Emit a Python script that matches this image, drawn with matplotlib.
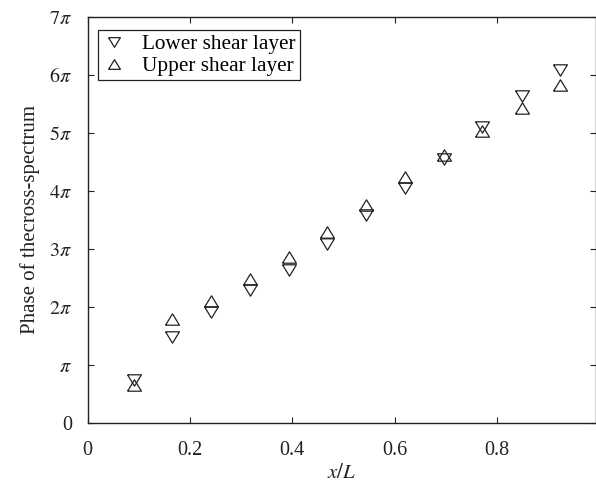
import numpy as np
import matplotlib
matplotlib.use("Agg")
import matplotlib.pyplot as plt
from matplotlib.ticker import FixedLocator, FixedFormatter

x_pos = [0.091, 0.166, 0.242, 0.317, 0.393, 0.468, 0.543, 0.620, 0.696, 0.771, 0.848, 0.923]
lower = [0.74, 1.48, 1.91, 2.29, 2.64, 3.09, 3.58, 4.06, 4.55, 5.11, 5.63, 6.09]
upper = [0.65, 1.79, 2.11, 2.48, 2.87, 3.30, 3.76, 4.24, 4.62, 5.04, 5.43, 5.83]
y_ticks = [0, 1, 2, 3, 4, 5, 6, 7]
y_ticklabels = ['0', r'$\pi$', r'$2\pi$', r'$3\pi$', r'$4\pi$', r'$5\pi$', r'$6\pi$', r'$7\pi$']
x_ticks = [0, 0.2, 0.4, 0.6, 0.8]
x_ticklabels = ['0', '0.2', '0.4', '0.6', '0.8']

plt.rcParams['font.family'] = ['Liberation Serif', 'DejaVu Serif']
plt.rcParams['mathtext.fontset'] = 'stix'

fig = plt.figure(figsize=(5.96, 4.84), dpi=100)
ax = fig.add_axes([87.5/596, 61/484, (595.5-87.5)/596, (423-17)/484])

h = 0.82
tri_down = [(-1, h), (1, h), (0, -h), (-1, h)]
tri_up = [(-1, -h), (1, -h), (0, h), (-1, -h)]

ms = 10
ax.plot(x_pos, lower, linestyle='none', marker=tri_down, markersize=ms,
        markerfacecolor='none', markeredgecolor='#222222', markeredgewidth=0.9,
        label='Lower shear layer')
ax.plot(x_pos, upper, linestyle='none', marker=tri_up, markersize=ms,
        markerfacecolor='none', markeredgecolor='#222222', markeredgewidth=0.9,
        label='Upper shear layer')

ax.set_xlim(0, (595.5-87.5)/512)
ax.set_ylim(0, 7)
ax.xaxis.set_major_locator(FixedLocator(x_ticks))
ax.xaxis.set_major_formatter(FixedFormatter(x_ticklabels))
ax.yaxis.set_major_locator(FixedLocator(y_ticks))
ax.yaxis.set_major_formatter(FixedFormatter(y_ticklabels))
ax.tick_params(direction='in', top=True, right=True, length=4, width=0.8,
               labelsize=14.5, colors='#222222')
ax.tick_params(axis='x', pad=13)
ax.tick_params(axis='y', pad=11)
for s in ax.spines.values():
    s.set_linewidth(1.0)
    s.set_color('#222222')

ax.set_xlabel(r'$x/L$', fontsize=15, color='#222222', labelpad=3)
ax.set_ylabel('Phase of thecross-spectrum', fontsize=15, color='#222222', labelpad=7)

leg = ax.legend(loc='upper left', bbox_to_anchor=(0.02, 0.968), fontsize=15.3,
                frameon=True, fancybox=False, edgecolor='#222222', framealpha=1,
                borderpad=0.2, handletextpad=0.8, handlelength=1.1,
                labelspacing=0.1, borderaxespad=0, markerscale=0.85)
leg.get_frame().set_linewidth(0.9)

fig.savefig('out.png', dpi=100)
